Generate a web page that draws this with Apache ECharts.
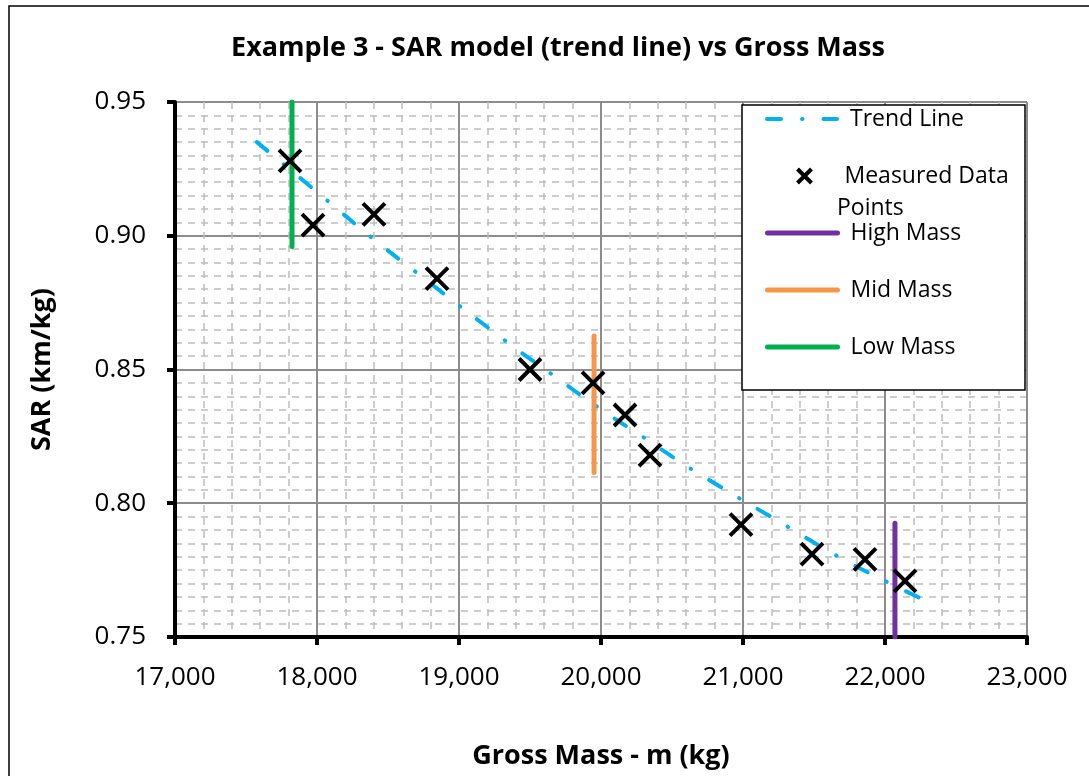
<!DOCTYPE html>
<html>
<head>
<meta charset="utf-8">
<script src="https://cdn.jsdelivr.net/npm/echarts@6/dist/echarts.min.js"></script>
<style>
  html, body { margin: 0; padding: 0; background: #fff; }
  #chart { width: 1089px; height: 776px; }
</style>
</head>
<body>
<div id="chart"></div>
<script>
// 实测数据点（质量 kg, SAR km/kg）
const massPoints = [17810, 17972, 18401, 18845, 19500, 19944, 20169, 20345, 20986, 21486, 21859, 22141];
const sarPoints = [0.928, 0.904, 0.908, 0.884, 0.850, 0.845, 0.833, 0.818, 0.792, 0.781, 0.779, 0.771];

// 趋势线（图上读出的曲线点）
const trendMass = [17577, 18085, 18387, 18704, 19338, 19662, 19986, 20317, 20648, 21331, 21676, 22028, 22261];
const trendSar = [0.9350, 0.9126, 0.8992, 0.8861, 0.8603, 0.8479, 0.8356, 0.8240, 0.8124, 0.7907, 0.7799, 0.7702, 0.7642];

// 三条竖线：质量位置 + 上下端
const lowMass = { x: 17824, y: [0.950, 0.896] };
const midMass = { x: 19951, y: [0.8625, 0.8115] };
const highMass = { x: 22070, y: [0.7925, 0.750] };

const xTicks = { min: 17000, max: 23000, step: 1000 };
const yTicks = { min: 0.75, max: 0.95, step: 0.05 };

const FONT = '"Open Sans", "Liberation Sans", sans-serif';
const chart = echarts.init(document.getElementById('chart'));

const pairs = (xs, ys) => xs.map((x, i) => [x, ys[i]]);
const vline = (m) => m.y.map(y => [m.x, y]);

const crossPath = 'path://M0,0L22,22M22,0L0,22';

// 每个图例单独放，方便对齐
function legendItem(name, center, extra) {
  return Object.assign({
    data: [name],
    orient: 'vertical',
    left: 760,
    top: center - 20,
    itemWidth: 70,
    itemHeight: 14,
    selectedMode: false,
    z: 5,
    itemStyle: { opacity: 0 },
    lineStyle: { width: 5 },
    textStyle: { fontFamily: FONT, fontSize: 23, lineHeight: 32, color: '#000', padding: [0, 0, 0, 8] }
  }, extra || {});
}

const option = {
  animation: false,
  backgroundColor: '#fff',
  title: {
    text: 'Example 3 - SAR model (trend line) vs Gross Mass',
    left: 553,
    textAlign: 'center',
    top: 30,
    textStyle: { fontFamily: FONT, fontSize: 27, fontWeight: 'bold', color: '#000' }
  },
  grid: { left: 175, right: 62, top: 102, bottom: 139, containLabel: false },
  xAxis: {
    type: 'value',
    min: xTicks.min,
    max: xTicks.max,
    interval: xTicks.step,
    name: 'Gross Mass - m (kg)',
    nameLocation: 'middle',
    nameGap: 106,
    nameTextStyle: { fontFamily: FONT, fontSize: 27, fontWeight: 'bold', color: '#000' },
    axisLine: { onZero: false, lineStyle: { color: '#000', width: 4 } },
    axisTick: { show: true, inside: false, length: 8, lineStyle: { color: '#000', width: 4 } },
    axisLabel: {
      margin: 28,
      fontFamily: FONT, fontSize: 26, color: '#000',
      formatter: v => v.toLocaleString('en-US')
    },
    splitLine: { show: true, lineStyle: { color: '#8c8c8c', width: 2 } },
    minorTick: { show: false, splitNumber: 5 },
    minorSplitLine: { show: true, lineStyle: { color: '#bdbdbd', width: 1.5, type: [7, 6] } }
  },
  yAxis: {
    type: 'value',
    min: yTicks.min,
    max: yTicks.max,
    interval: yTicks.step,
    name: 'SAR (km/kg)',
    nameLocation: 'middle',
    nameGap: 119,
    nameTextStyle: { fontFamily: FONT, fontSize: 27, fontWeight: 'bold', color: '#000' },
    axisLine: { onZero: false, lineStyle: { color: '#000', width: 4 } },
    axisTick: { show: true, inside: false, length: 8, lineStyle: { color: '#000', width: 4 } },
    axisLabel: {
      margin: 29,
      fontFamily: FONT, fontSize: 26, color: '#000',
      formatter: v => v.toFixed(2)
    },
    splitLine: { show: true, lineStyle: { color: '#8c8c8c', width: 2 } },
    minorTick: { show: false, splitNumber: 10 },
    minorSplitLine: { show: true, lineStyle: { color: '#bdbdbd', width: 1.5, type: [7, 6] } }
  },
  legend: [
    legendItem('Trend Line', 118, { lineStyle: { width: 4 } }),
    legendItem('Measured Data', 175, {
      left: 790, itemWidth: 14, itemHeight: 14,
      itemStyle: { opacity: 1, color: 'none', borderColor: '#000', borderWidth: 4 },
      textStyle: { fontFamily: FONT, fontSize: 23, lineHeight: 32, color: '#000', padding: [0, 0, 0, 28] }
    }),
    legendItem('High Mass', 232),
    legendItem('Mid Mass', 289),
    legendItem('Low Mass', 346)
  ],
  graphic: [
    { type: 'rect', shape: { x: 9, y: 6, width: 1200, height: 900 }, style: { fill: 'none', stroke: '#000', lineWidth: 1.5 }, z: 0, silent: true },
    { type: 'rect', shape: { x: 742, y: 105, width: 283, height: 285 }, style: { fill: '#fff', stroke: '#000', lineWidth: 1.5 }, z: 3, silent: true },
    { type: 'text', left: 837, top: 197, style: { text: 'Points', fontFamily: FONT, fontSize: 23, fill: '#000' }, z: 5, silent: true }
  ],
  series: [
    {
      name: 'Trend Line',
      type: 'line',
      data: pairs(trendMass, trendSar),
      smooth: true,
      symbol: 'none',
      color: '#00b0f0',
      lineStyle: { color: '#00b0f0', width: 4, type: [14, 21, 0.5, 21], cap: 'round' },
      z: 2
    },
    {
      name: 'Measured Data',
      type: 'scatter',
      data: pairs(massPoints, sarPoints),
      symbol: crossPath,
      symbolSize: 22,
      symbolKeepAspect: true,
      color: '#000',
      itemStyle: { color: 'none', borderColor: '#000', borderWidth: 4, opacity: 1 },
      z: 4
    },
    {
      name: 'High Mass',
      type: 'line',
      data: vline(highMass),
      symbol: 'none',
      color: '#7030a0',
      lineStyle: { color: '#7030a0', width: 5, cap: 'round' },
      z: 3
    },
    {
      name: 'Mid Mass',
      type: 'line',
      data: vline(midMass),
      symbol: 'none',
      color: '#f79646',
      lineStyle: { color: '#f79646', width: 5, cap: 'round' },
      z: 3
    },
    {
      name: 'Low Mass',
      type: 'line',
      data: vline(lowMass),
      symbol: 'none',
      color: '#00b050',
      lineStyle: { color: '#00b050', width: 5, cap: 'round' },
      z: 3
    }
  ]
};

chart.setOption(option);
window.addEventListener('resize', () => chart.resize());
</script>
</body>
</html>
